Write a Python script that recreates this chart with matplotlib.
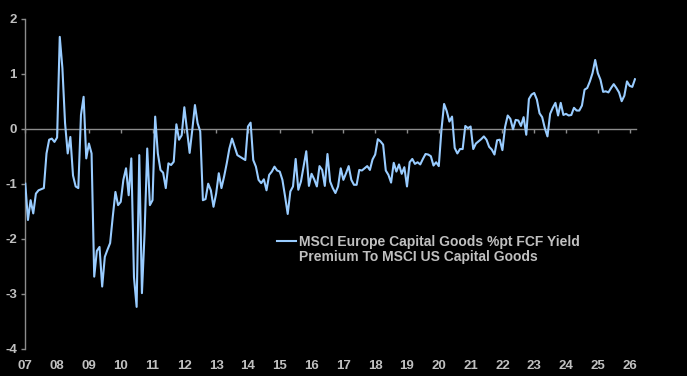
import numpy as np
import matplotlib
matplotlib.use("Agg")
import matplotlib.pyplot as plt
from matplotlib.lines import Line2D

# Monthly FCF yield premium (%pt), Jan 2007 onwards
premium = [
    -1.00, -1.66, -1.30, -1.54, -1.18, -1.12, -1.10, -1.08, -0.45, -0.20, -0.18, -0.24,
    -0.16, 1.67, 1.10, 0.10, -0.45, -0.15, -0.85, -1.05, -1.08, 0.25, 0.58, -0.54,
    -0.27, -0.45, -2.69, -2.22, -2.15, -2.87, -2.33, -2.20, -2.08, -1.60, -1.15, -1.39,
    -1.33, -0.93, -0.72, -1.21, -0.54, -2.70, -3.24, -0.48, -2.99, -1.90, -0.36, -1.39,
    -1.30, 0.22, -0.45, -0.75, -0.80, -1.08, -0.63, -0.66, -0.60, 0.08, -0.20, -0.12,
    0.39, -0.02, -0.44, -0.02, 0.43, 0.10, -0.05, -1.30, -1.28, -1.00, -1.12, -1.42,
    -1.18, -0.81, -1.08, -0.87, -0.63, -0.36, -0.18, -0.33, -0.48, -0.51, -0.54, -0.57,
    0.04, 0.11, -0.57, -0.69, -0.93, -0.99, -0.92, -1.12, -0.84, -0.78, -0.69, -0.76,
    -0.78, -0.93, -1.23, -1.55, -1.14, -1.05, -0.55, -1.11, -0.96, -0.68, -0.41, -1.04,
    -0.82, -0.92, -1.05, -0.68, -0.75, -1.04, -0.46, -0.96, -1.08, -1.17, -1.05, -0.72,
    -0.93, -0.81, -0.68, -0.93, -1.02, -1.02, -0.75, -0.76, -0.72, -0.68, -0.75, -0.56,
    -0.47, -0.19, -0.23, -0.29, -0.76, -0.84, -0.98, -0.62, -0.78, -0.65, -0.82, -0.70,
    -1.05, -0.61, -0.55, -0.64, -0.61, -0.65, -0.55, -0.46, -0.47, -0.50, -0.67, -0.61,
    -0.68, -0.02, 0.45, 0.32, 0.13, 0.22, -0.35, -0.45, -0.37, -0.37, 0.05, 0.01,
    0.04, -0.37, -0.27, -0.23, -0.19, -0.14, -0.20, -0.33, -0.38, -0.47, -0.21, -0.20,
    -0.39, 0.03, 0.24, 0.18, -0.01, 0.16, 0.15, 0.05, 0.21, -0.11, 0.54, 0.62,
    0.65, 0.53, 0.28, 0.21, 0.01, -0.14, 0.27, 0.38, 0.47, 0.24, 0.47, 0.25,
    0.27, 0.24, 0.25, 0.38, 0.33, 0.33, 0.42, 0.71, 0.74, 0.86, 1.01, 1.25,
    1.01, 0.89, 0.67, 0.68, 0.66, 0.74, 0.81, 0.74, 0.66, 0.50, 0.60, 0.86,
    0.78, 0.76, 0.90,
]
start_year = 2007
year_ticks = list(range(2007, 2027))
year_labels = [f"{y % 100:02d}" for y in year_ticks]
y_ticks = [-4, -3, -2, -1, 0, 1, 2]
legend_lines = ["MSCI Europe Capital Goods %pt FCF Yield",
                "Premium To MSCI US Capital Goods"]

line_color = '#99CCFF'
text_color = '#C0C0C0'
axis_color = '#8C8C8C'

plt.rcParams['font.family'] = ['Liberation Sans', 'DejaVu Sans']
plt.rcParams['font.weight'] = 'bold'

t = start_year + np.arange(len(premium)) / 12.0

fig = plt.figure(figsize=(6.87, 3.76), dpi=100)
fig.patch.set_facecolor('black')
ax = fig.add_axes([25.3 / 687, 1 - 348.7 / 376, (636 - 25.3) / 687, (348.7 - 18.7) / 376])
ax.set_facecolor('black')

ax.plot(t, premium, color=line_color, linewidth=1.5, solid_joinstyle='round', zorder=3)

ax.set_xlim(2007, 2026.2)
ax.set_ylim(-4, 2)

# spines
for s in ['top', 'right']:
    ax.spines[s].set_visible(False)
ax.spines['left'].set_color(axis_color)
ax.spines['left'].set_linewidth(1.0)
ax.spines['bottom'].set_position(('data', 0))
ax.spines['bottom'].set_color(axis_color)
ax.spines['bottom'].set_linewidth(1.0)

ax.set_yticks(y_ticks)
ax.set_yticklabels([str(v) for v in y_ticks])
ax.tick_params(axis='y', direction='out', length=3, width=1, color=axis_color,
               labelcolor=text_color, labelsize=9.5, pad=3)

# year tick marks on the zero line, labels along the bottom
ax.set_xticks(year_ticks)
ax.tick_params(axis='x', direction='out', length=3, width=1, color=axis_color,
               labelbottom=False)
sec = ax.secondary_xaxis(0)
sec.set_xticks(year_ticks)
sec.set_xticklabels(year_labels)
sec.spines['bottom'].set_visible(False)
sec.tick_params(axis='x', length=0, pad=8, labelcolor=text_color, labelsize=9.5)

handles = [Line2D([], [], color=line_color, linewidth=1.5),
           Line2D([], [], linestyle='none')]
leg = fig.legend(handles, legend_lines, loc='upper left',
                 bbox_to_anchor=(277 / 687, 1 - 235 / 376), bbox_transform=fig.transFigure,
                 frameon=False, borderpad=0, borderaxespad=0, handlelength=1.4,
                 handletextpad=0.15, labelspacing=0.1,
                 prop={'size': 10, 'weight': 'bold'})
for txt in leg.get_texts():
    txt.set_color(text_color)

fig.savefig('out.png', dpi=100, facecolor='black')
